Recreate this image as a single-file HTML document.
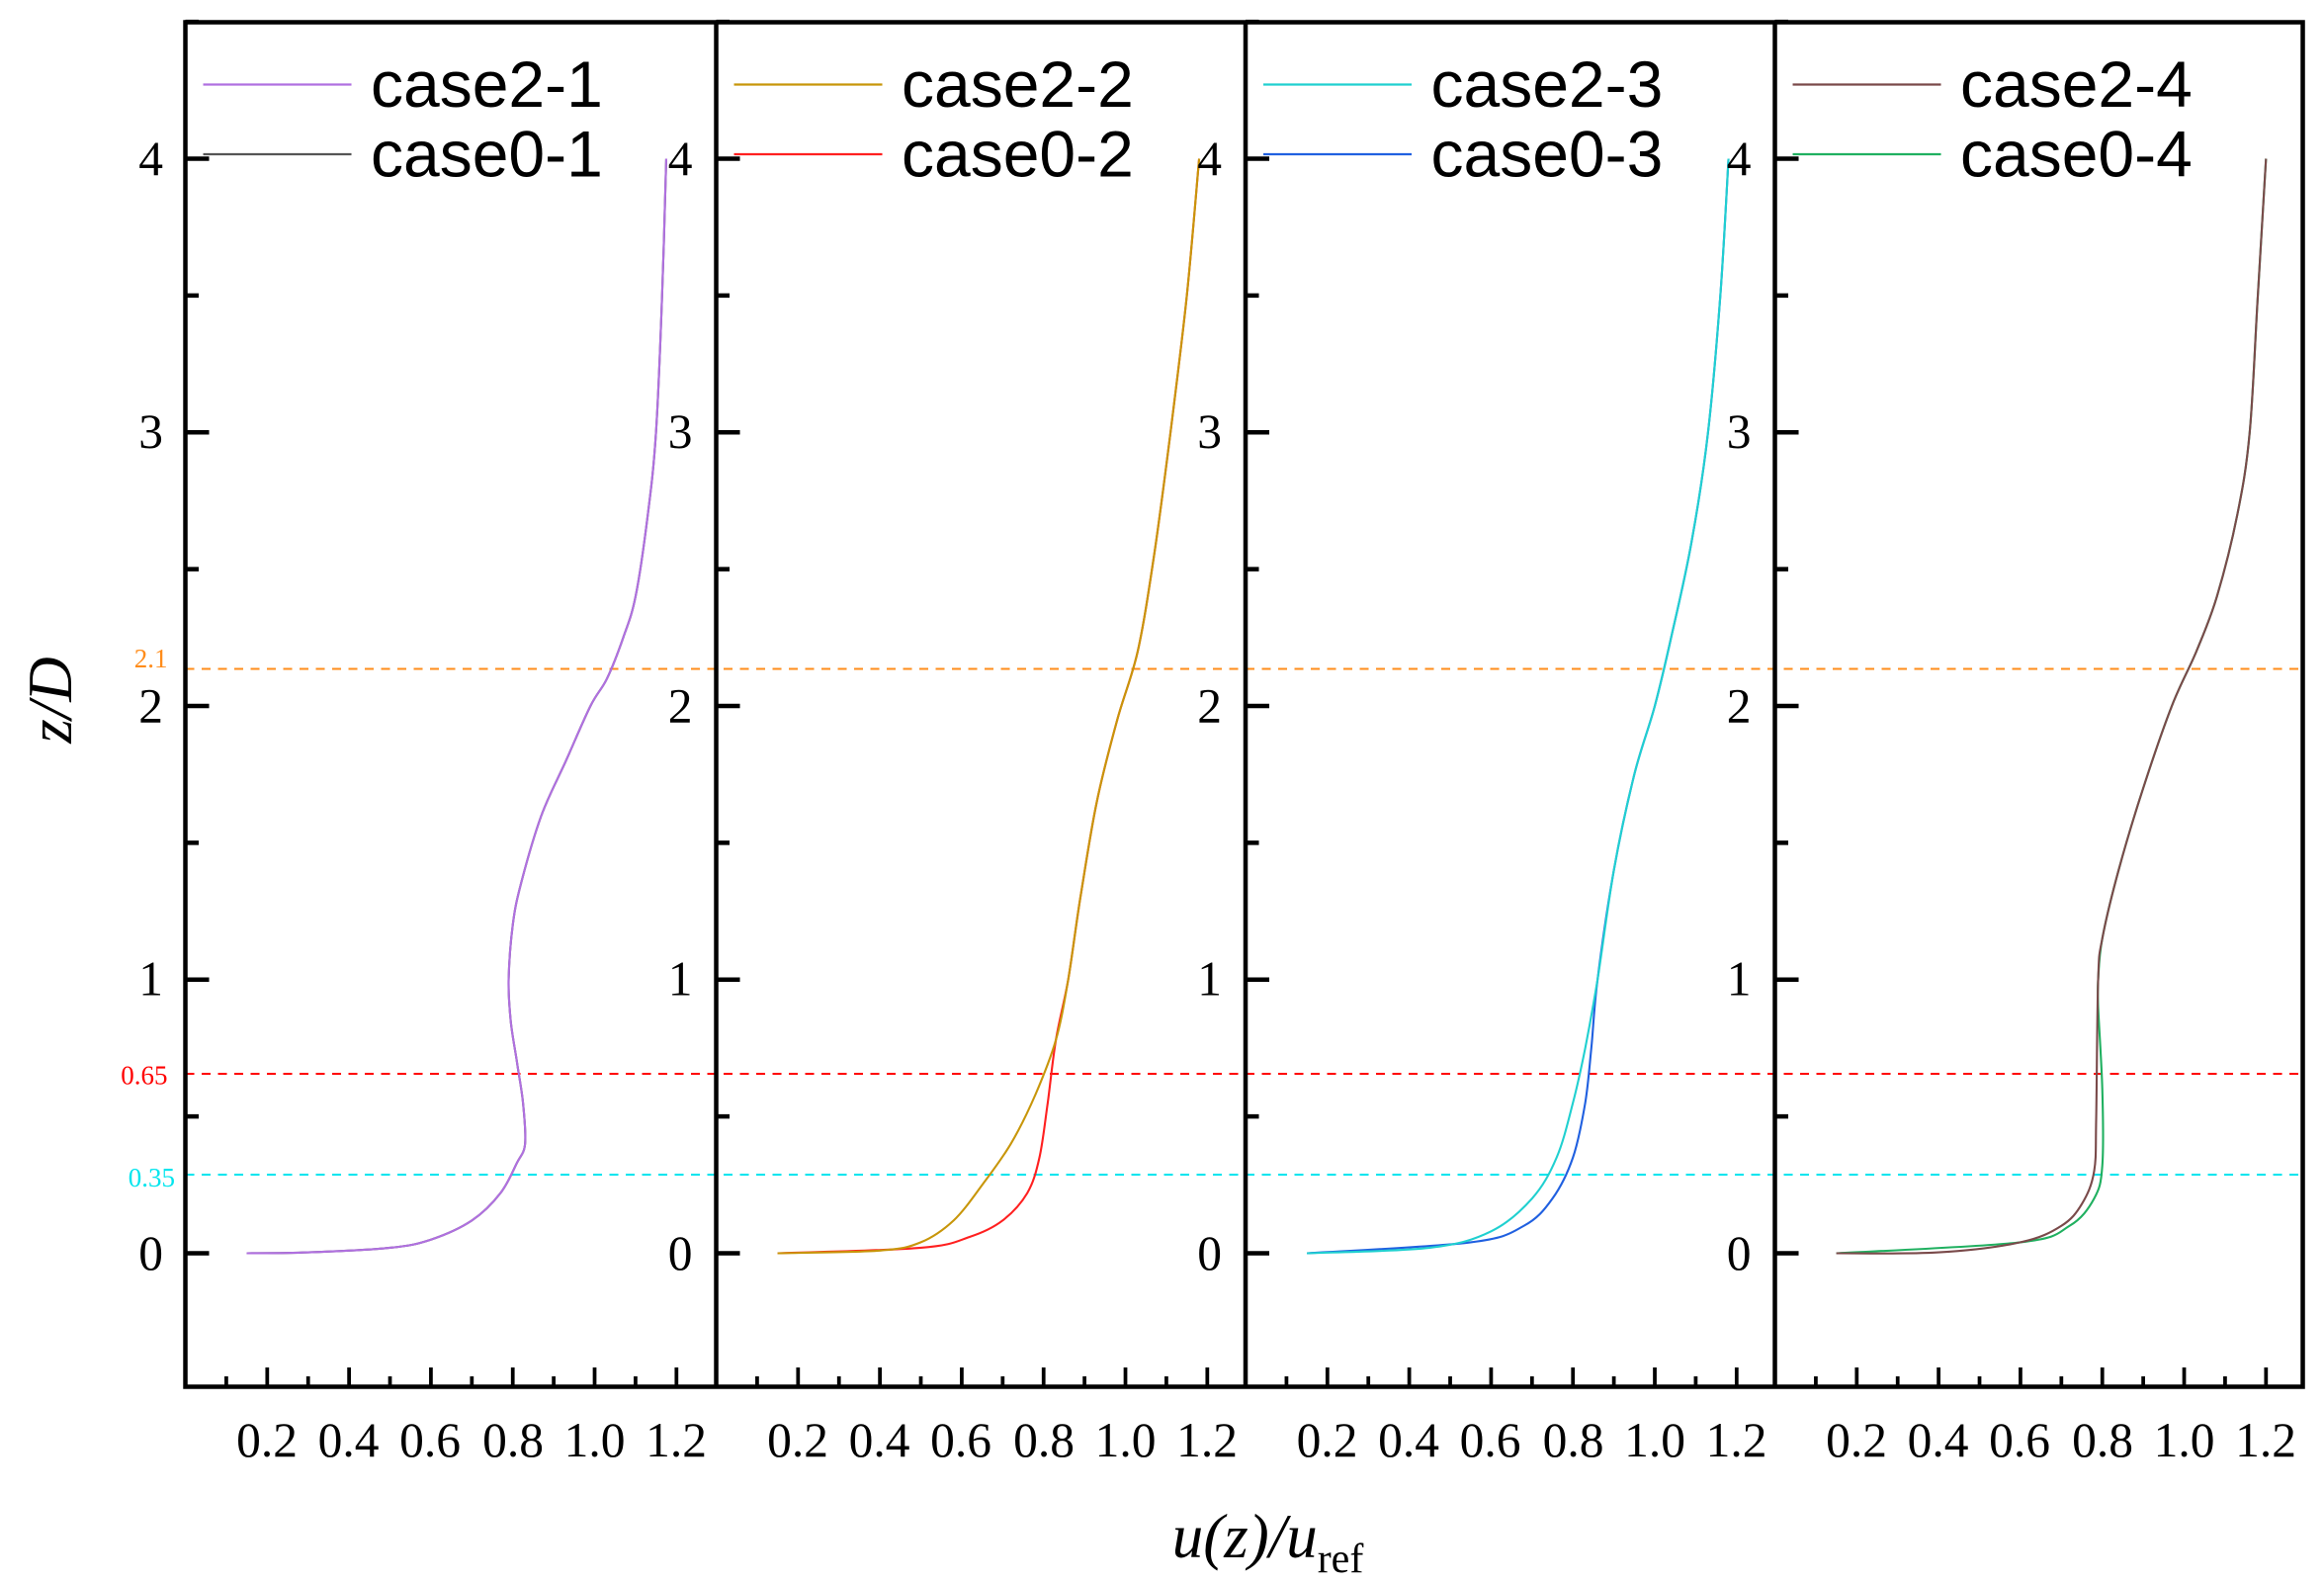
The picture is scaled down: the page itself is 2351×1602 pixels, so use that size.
<!DOCTYPE html>
<html><head><meta charset="utf-8"><style>
html,body{margin:0;padding:0;background:#fff;}
svg{display:block;}
.t{font-family:"Liberation Serif",serif;font-size:33px;fill:#000;}
.lg{font-family:"Liberation Sans",sans-serif;font-size:44px;fill:#000;}
</style></head><body>
<svg id="s" width="2351" height="1602" viewBox="0 0 1567.3 1068" xmlns="http://www.w3.org/2000/svg">
<g id="g"></g>
<g class="t" text-anchor="end">
<text x="110" y="118">4</text><text x="110" y="302">3</text><text x="110" y="487">2</text><text x="110" y="671">1</text><text x="110" y="856">0</text>
<text x="467" y="118">4</text><text x="467" y="302">3</text><text x="467" y="487">2</text><text x="467" y="671">1</text><text x="467" y="856">0</text>
<text x="824" y="118">4</text><text x="824" y="302">3</text><text x="824" y="487">2</text><text x="824" y="671">1</text><text x="824" y="856">0</text>
<text x="1181" y="118">4</text><text x="1181" y="302">3</text><text x="1181" y="487">2</text><text x="1181" y="671">1</text><text x="1181" y="856">0</text>
</g>
<g class="t" text-anchor="middle" font-size="31">
<text x="180" y="982">0.2</text><text x="235" y="982">0.4</text><text x="290" y="982">0.6</text><text x="346" y="982">0.8</text><text x="401" y="982">1.0</text><text x="456" y="982">1.2</text>
<text x="538" y="982">0.2</text><text x="593" y="982">0.4</text><text x="648" y="982">0.6</text><text x="704" y="982">0.8</text><text x="759" y="982">1.0</text><text x="814" y="982">1.2</text>
<text x="895" y="982">0.2</text><text x="950" y="982">0.4</text><text x="1005" y="982">0.6</text><text x="1061" y="982">0.8</text><text x="1116" y="982">1.0</text><text x="1171" y="982">1.2</text>
<text x="1252" y="982">0.2</text><text x="1307" y="982">0.4</text><text x="1362" y="982">0.6</text><text x="1418" y="982">0.8</text><text x="1473" y="982">1.0</text><text x="1528" y="982">1.2</text>
</g>
<g class="lg">
<text x="250" y="72">case2-1</text><text x="250" y="119">case0-1</text>
<text x="608" y="72">case2-2</text><text x="608" y="119">case0-2</text>
<text x="965" y="72">case2-3</text><text x="965" y="119">case0-3</text>
<text x="1322" y="72">case2-4</text><text x="1322" y="119">case0-4</text>
</g>
<g font-family="Liberation Serif,serif" font-size="18" text-anchor="end">
<text x="113" y="450" fill="#ff8c1a">2.1</text>
<text x="113" y="731" fill="#ff0000">0.65</text>
<text x="118" y="800" fill="#00e5ee">0.35</text>
</g>
<text x="855" y="1050" text-anchor="middle" font-family="Liberation Serif,serif" font-size="42" font-style="italic">u(z)/u<tspan font-size="28" font-style="normal" dy="10">ref</tspan></text>
<text transform="translate(48,472) rotate(-90)" text-anchor="middle" font-family="Liberation Serif,serif" font-size="42" font-style="italic">z/D</text>
</svg>
<script>
var g=document.getElementById('g'),NS='http://www.w3.org/2000/svg';
function el(t,a){var e=document.createElementNS(NS,t);for(var k in a)e.setAttribute(k,a[k]);g.appendChild(e);return e;}
var L=[125,483,840,1197],R=1553,T=15,B=935,K=276;
function Y(z){return 845-z*184.5;}
[[451,'#ff8c1a'],[724,'#ff0000'],[792,'#00e5ee']].forEach(function(d){el('line',{x1:125,x2:R,y1:d[0],y2:d[0],stroke:d[1],'stroke-width':1.3,'stroke-dasharray':'6 5'});});
function path(p,pts,c,w){
 var P=pts.map(function(q){return [L[p]+q[0]*K,Y(q[1])];});
 var d='M'+P[0][0].toFixed(1)+' '+P[0][1].toFixed(1);
 for(var i=0;i<P.length-1;i++){
  var p0=P[i-1]||P[i],p1=P[i],p2=P[i+1],p3=P[i+2]||p2;
  var c1=[p1[0]+(p2[0]-p0[0])/6,p1[1]+(p2[1]-p0[1])/6],c2=[p2[0]-(p3[0]-p1[0])/6,p2[1]-(p3[1]-p1[1])/6];
  d+='C'+c1[0].toFixed(1)+' '+c1[1].toFixed(1)+' '+c2[0].toFixed(1)+' '+c2[1].toFixed(1)+' '+p2[0].toFixed(1)+' '+p2[1].toFixed(1);
 }
 el('path',{d:d,fill:'none',stroke:c,'stroke-width':w||1.4,'stroke-linejoin':'round'});}
var c1=[[0.15,0],[0.3,0.003],[0.5,0.02],[0.6,0.05],[0.7,0.12],[0.77,0.22],[0.81,0.33],[0.83,0.4],[0.825,0.55],[0.81,0.7],[0.795,0.85],[0.79,1.0],[0.8,1.2],[0.82,1.35],[0.87,1.6],[0.93,1.8],[0.99,2.0],[1.03,2.1],[1.07,2.25],[1.1,2.4],[1.13,2.7],[1.15,3.0],[1.165,3.5],[1.175,4.0]];
path(0,c1,'#555',1.4);path(0,c1,'#b070e0',1.4);
var c2=[[0.15,0],[0.4,0.01],[0.5,0.04],[0.58,0.12],[0.65,0.25],[0.72,0.4],[0.78,0.58],[0.83,0.78],[0.86,1.0],[0.89,1.3],[0.93,1.65],[0.98,1.95],[1.03,2.2],[1.07,2.55],[1.11,3.0],[1.15,3.5],[1.18,4.0]];
var c2b=[[0.15,0],[0.5,0.02],[0.62,0.06],[0.7,0.12],[0.76,0.22],[0.79,0.35],[0.81,0.55],[0.83,0.78]].concat(c2.slice(8));
path(1,c2b,'#ff2020');path(1,c2,'#c8960a');
var c3=[[0.15,0],[0.45,0.02],[0.6,0.08],[0.7,0.2],[0.76,0.35],[0.8,0.55],[0.83,0.75],[0.86,1.0],[0.9,1.4],[0.95,1.75],[1.0,2.0],[1.04,2.25],[1.09,2.6],[1.13,3.0],[1.16,3.5],[1.18,4.0]];
var c3b=[[0.15,0],[0.55,0.04],[0.68,0.1],[0.75,0.2],[0.8,0.35],[0.83,0.55],[0.845,0.75]].concat(c3.slice(7));
path(2,c3b,'#2060e0');path(2,c3,'#20d0d0');
var c4=[[0.15,0],[0.4,0.003],[0.6,0.04],[0.7,0.1],[0.75,0.18],[0.78,0.3],[0.785,0.5],[0.79,1.0],[0.8,1.15],[0.84,1.4],[0.9,1.7],[0.97,2.0],[1.03,2.2],[1.08,2.4],[1.13,2.7],[1.16,3.0],[1.18,3.5],[1.2,4.0]];
var c4b=[[0.15,0],[0.6,0.04],[0.72,0.1],[0.78,0.2],[0.8,0.32],[0.8,0.6],[0.79,0.9]].concat(c4.slice(7));
path(3,c4b,'#20b060');path(3,c4,'#7a4a4a');
var lc=[['#b070e0','#555'],['#c8960a','#ff2020'],['#20d0d0','#2060e0'],['#7a4a4a','#20b060']];
L.forEach(function(x,i){el('line',{x1:x+12,x2:x+112,y1:57,y2:57,stroke:lc[i][0],'stroke-width':1.5});el('line',{x1:x+12,x2:x+112,y1:104,y2:104,stroke:lc[i][1],'stroke-width':1.5});});
el('rect',{x:125,y:T,width:R-125,height:B-T,fill:'none',stroke:'#000','stroke-width':3});
L.slice(1).forEach(function(x){el('line',{x1:x,x2:x,y1:T,y2:B,stroke:'#000','stroke-width':3});});
L.forEach(function(x){
 for(var z=0;z<=4.51;z+=0.5){var maj=Math.abs(z-Math.round(z))<0.01;el('line',{x1:x,x2:x+(maj?16:9),y1:Y(z),y2:Y(z),stroke:'#000','stroke-width':3});}
 for(var v=1;v<=12;v++){var xx=x+v*0.1*K,maj=v%2==0;el('line',{x1:xx,x2:xx,y1:B,y2:B-(maj?13:7),stroke:'#000','stroke-width':2.5});}
});
</script>
</body></html>
